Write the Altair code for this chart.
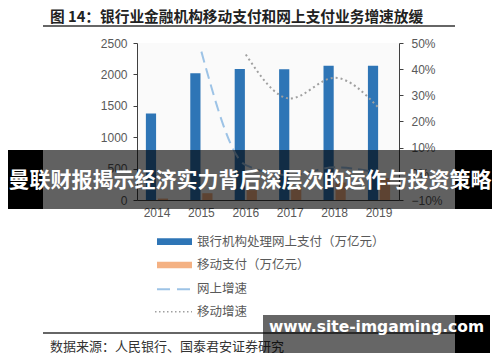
import altair as alt
import pandas as pd

# ---------------- data ----------------
years = ["2014", "2015", "2016", "2017", "2018", "2019"]
online_pay = [1376.0, 2018.2, 2085.0, 2080.1, 2136.3, 2138.8]   # 万亿元
mobile_pay = [22.6, 108.2, 157.6, 202.9, 277.4, 347.1]           # 万亿元
online_growth_years = ["2015", "2016", "2017", "2018", "2019"]
online_growth = [0.467, 0.033, -0.005, 0.025, 0.004]
mobile_growth_years = ["2016", "2017", "2018", "2019"]
mobile_growth = [0.456, 0.288, 0.367, 0.251]
series_bar = ["银行机构处理网上支付（万亿元）", "移动支付（万亿元）"]
series_line = ["网上增速", "移动增速"]
left_ticks = [0, 500, 1000, 1500, 2000, 2500]
right_ticks = [-0.1, 0.0, 0.1, 0.2, 0.3, 0.4, 0.5]
title_text = "图 14：银行业金融机构移动支付和网上支付业务增速放缓"
source_text = "数据来源：人民银行、国泰君安证券研究"
banner_text = "曼联财报揭示经济实力背后深层次的运作与投资策略"
watermark_text = "www.site-imgaming.com"

# ---------------- style ----------------
NUM_FONT = "Liberation Sans"
CJK = "Noto Sans CJK SC"
BLUE = "#2e75b6"
ORANGE = "#f4b183"
LBLUE = "#9dc3e6"
GREY = "#a0a0a0"
AXIS_C = "#404040"
LABEL_C = "#595959"

bar_df = pd.DataFrame({
    "year": years * 2,
    "series": [series_bar[0]] * len(years) + [series_bar[1]] * len(years),
    "value": online_pay + mobile_pay,
})
line_df = pd.DataFrame({
    "year": online_growth_years + mobile_growth_years,
    "series": [series_line[0]] * len(online_growth_years) + [series_line[1]] * len(mobile_growth_years),
    "pct": online_growth + mobile_growth,
})

x_enc = alt.X(
    "year:N", sort=years,
    scale=alt.Scale(paddingInner=0.5, paddingOuter=0.2),
    axis=alt.Axis(title=None, labelAngle=0, ticks=False, tickSize=0, labelPadding=7,
                  domainColor=AXIS_C, labelColor=LABEL_C, labelFont=NUM_FONT, labelFontSize=12),
)

bars = alt.Chart(bar_df).mark_bar().encode(
    x=x_enc,
    xOffset=alt.XOffset("series:N", sort=series_bar,
                        scale=alt.Scale(paddingInner=0.15, paddingOuter=0)),
    y=alt.Y("value:Q", scale=alt.Scale(domain=[0, 2500], nice=False),
            axis=alt.Axis(title=None, values=left_ticks, format="d", grid=False, tickSize=4,
                          labelPadding=6, domainColor=AXIS_C, tickColor=AXIS_C, labelColor=LABEL_C,
                          labelFont=NUM_FONT, labelFontSize=12)),
    color=alt.Color("series:N", sort=series_bar,
                    scale=alt.Scale(domain=series_bar, range=[BLUE, ORANGE]), legend=None),
)

lines = alt.Chart(line_df).mark_line(strokeWidth=2, interpolate="monotone").encode(
    x=alt.X("year:N", sort=years),
    y=alt.Y("pct:Q", scale=alt.Scale(domain=[-0.1, 0.5], nice=False),
            axis=alt.Axis(title=None, orient="right", values=right_ticks, format=".0%", grid=False,
                          tickSize=4, labelPadding=8, domainColor=AXIS_C, tickColor=AXIS_C,
                          labelColor=LABEL_C, labelFont=NUM_FONT, labelFontSize=12)),
    color=alt.Color("series:N", scale=alt.Scale(domain=series_line, range=[LBLUE, GREY]), legend=None),
    strokeDash=alt.StrokeDash("series:N", scale=alt.Scale(domain=series_line, range=[[11, 6], [2, 3]]),
                              legend=None),
)

core = alt.layer(bars, lines).resolve_scale(y="independent", color="independent")


def one():
    return alt.Data(values=[{"a": 1}])


def rect(x, x2, y, y2, color, opacity=1.0):
    return alt.Chart(one()).mark_rect(color=color, opacity=opacity).encode(
        x=alt.value(x), x2=alt.value(x2), y=alt.value(y), y2=alt.value(y2))


def rule(x, x2, y, color, width, dash=None):
    kw = dict(color=color, strokeWidth=width)
    if dash is not None:
        kw["strokeDash"] = dash
    return alt.Chart(one()).mark_rule(**kw).encode(x=alt.value(x), x2=alt.value(x2), y=alt.value(y))


def text(t, x, y, size, color, weight="normal", align="left", font=CJK):
    return alt.Chart(alt.Data(values=[{"t": t}])).mark_text(
        align=align, baseline="middle", fontSize=size, color=color, fontWeight=weight, font=font
    ).encode(text="t:N", x=alt.value(x), y=alt.value(y))


decor = [
    # header
    text(title_text, -87, -25.5, 14.7, "#222222", weight="bold"),
    rule(-94, 318, -17, "#333333", 1.5),
    # legend
    rect(20, 55, 195.3, 202, BLUE),
    text(series_bar[0], 60, 198.7, 12.5, LABEL_C),
    rect(20, 55, 218.7, 225.3, ORANGE),
    text(series_bar[1], 60, 222, 12.5, LABEL_C),
    rule(20, 55, 246.3, LBLUE, 2, [13, 7]),
    text(series_line[0], 60, 246.3, 12.5, LABEL_C),
    rule(18, 55, 268.7, GREY, 1.5, [1.5, 2.5]),
    text(series_line[1], 60, 268.7, 12.5, LABEL_C),
    # footer
    rule(-94, 318, 290, "#333333", 1.5),
    text(source_text, -87, 303.5, 13, "#333333"),
    # banner overlay
    rect(-129, 355, 107, 166, "#000000", 0.62),
    rect(-129, -94, 107, 166, "#000000", 1.0),
    rect(318, 355, 107, 166, "#000000", 1.0),
    text(banner_text, 113, 138, 21, "#ffffff", weight="bold", align="center"),
    # watermark
    rect(126, 318, 272, 310, "#000000", 0.6),
    rect(318, 353, 272, 310, "#000000", 1.0),
    text(watermark_text, 239.5, 284, 15.5, "#ffffff", weight="bold", align="center", font="DejaVu Sans"),
]

chart = alt.layer(core, *decor).properties(
    width=262, height=157,
    autosize=alt.AutoSizeParams(type="none"),
    padding={"left": 129, "top": 35, "right": 93, "bottom": 154},
).configure_view(stroke=None, fill="#fafafa")

chart.save("out.html", embed_options={"renderer": "svg", "actions": False})
